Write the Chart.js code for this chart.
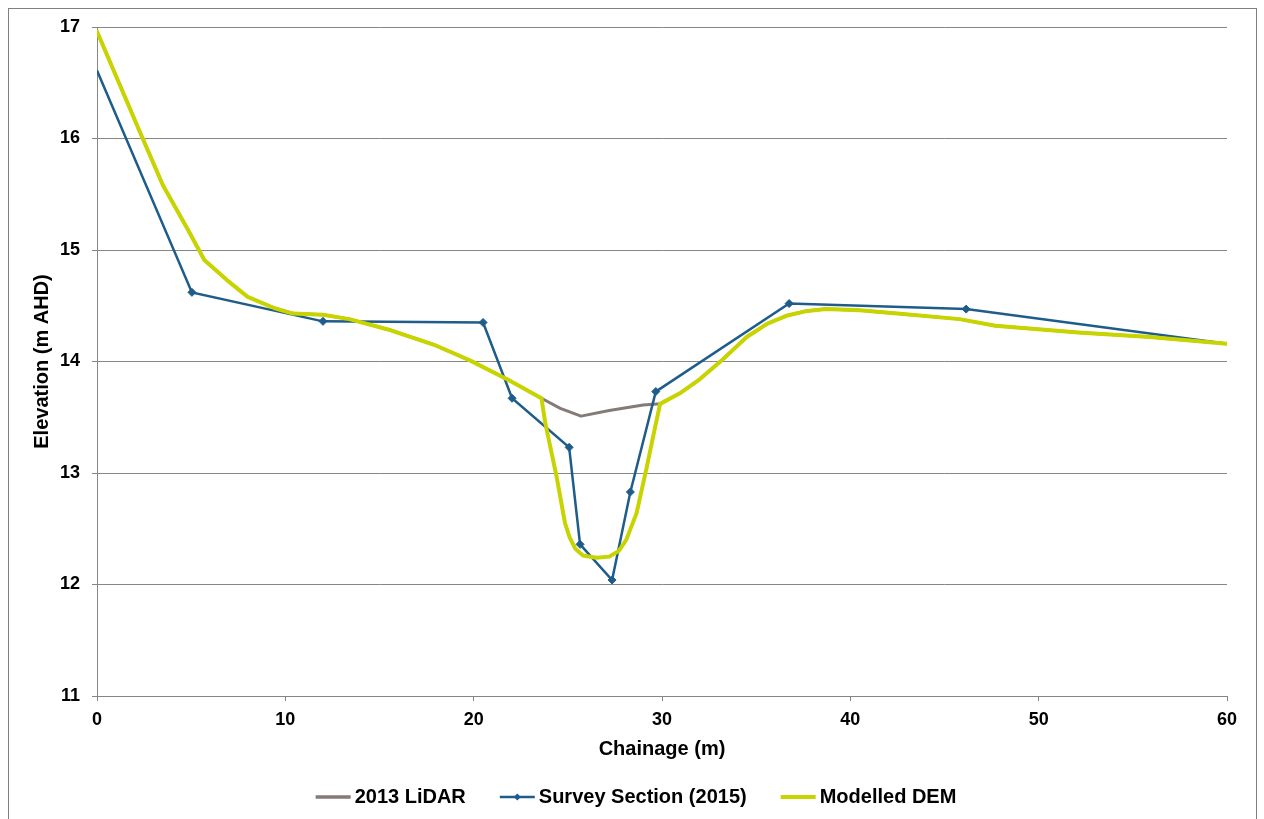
<!DOCTYPE html>
<html>
<head>
<meta charset="utf-8">
<title>Cross Section – Elevation vs Chainage</title>
<script src="https://cdn.jsdelivr.net/npm/chart.js@4.4.1/dist/chart.umd.min.js"></script>
<style>
  html, body { margin: 0; padding: 0; background: #ffffff; }
  #wrap { position: relative; width: 1264px; height: 819px; }
  canvas { display: block; }
</style>
</head>
<body>
<div id="wrap"><canvas id="chart" width="1264" height="819"></canvas></div>
<script>
// Axis ticks
const xTicks = [0, 10, 20, 30, 40, 50, 60];
const yTicks = [11, 12, 13, 14, 15, 16, 17];

// 2013 LiDAR ground profile
const lidarChainage = [0, 2.3, 3.5, 4.8, 5.7, 6.9, 8.0, 9.4, 10.4, 12.0, 13.4, 15.6, 17.9, 19.8, 21.9, 23.6,
  24.6, 25.7, 27.2, 29.0, 29.9, 31.0, 32.0, 33.3, 34.5, 35.6, 36.6, 37.6, 38.7, 40.5, 42.5, 45.8, 47.7, 52.1, 55.9, 60];
const lidarElevation = [16.96, 16.05, 15.58, 15.19, 14.91, 14.73, 14.58, 14.48, 14.43, 14.42, 14.38, 14.28, 14.15, 14.01, 13.83, 13.67,
  13.58, 13.51, 13.56, 13.61, 13.62, 13.72, 13.84, 14.03, 14.22, 14.34, 14.41, 14.45, 14.47, 14.46, 14.43, 14.38, 14.32, 14.26, 14.22, 14.16];

// Survey section (2015)
const surveyChainage = [0, 5.04, 12.0, 20.5, 22.04, 25.07, 25.65, 27.35, 28.32, 29.67, 36.75, 46.15, 60];
const surveyElevation = [16.61, 14.62, 14.36, 14.35, 13.67, 13.23, 12.36, 12.04, 12.83, 13.73, 14.52, 14.47, 14.16];

// Modelled DEM profile (channel cut into the LiDAR surface)
const demChainage = [0, 2.3, 3.5, 4.8, 5.7, 6.9, 8.0, 9.4, 10.4, 12.0, 13.4, 15.6, 17.9, 19.8, 21.9, 23.6,
  23.8, 24.4, 24.85, 25.1, 25.4, 25.8, 26.5, 27.2, 27.7, 28.1, 28.65, 29.2, 29.63, 29.9,
  31.0, 32.0, 33.3, 34.5, 35.6, 36.6, 37.6, 38.7, 40.5, 42.5, 45.8, 47.7, 52.1, 55.9, 60];
const demElevation = [16.96, 16.05, 15.58, 15.19, 14.91, 14.73, 14.58, 14.48, 14.43, 14.42, 14.38, 14.28, 14.15, 14.01, 13.83, 13.67,
  13.45, 12.97, 12.55, 12.42, 12.32, 12.26, 12.24, 12.25, 12.30, 12.40, 12.64, 13.06, 13.41, 13.62,
  13.72, 13.84, 14.03, 14.22, 14.34, 14.41, 14.45, 14.47, 14.46, 14.43, 14.38, 14.32, 14.26, 14.22, 14.16];

const seriesNames = ['2013 LiDAR', 'Survey Section (2015)', 'Modelled DEM'];
const COLORS = { lidar: '#857a78', survey: '#1e5c8a', dem: '#c8d400' };

const pts = (xs, ys) => xs.map((x, i) => ({ x: x, y: ys[i] }));
const FONT = "'Liberation Sans', Arial, Helvetica, sans-serif";

// white background + outer frame
const framePlugin = {
  id: 'frame',
  beforeDraw(chart) {
    const ctx = chart.ctx;
    ctx.save();
    ctx.fillStyle = '#ffffff';
    ctx.fillRect(0, 0, chart.width, chart.height);
    ctx.strokeStyle = '#808080';
    ctx.lineWidth = 1;
    ctx.strokeRect(8.5, 8.5, 1248, 812);
    ctx.restore();
  }
};

// bottom legend with line swatches (marker on the survey entry)
const legendPlugin = {
  id: 'lineLegend',
  afterDraw(chart) {
    const ctx = chart.ctx;
    const ds = chart.data.datasets;
    const swatch = 35, gap = 4, itemGap = 34, cy = 797, centerX = 636;
    ctx.save();
    ctx.font = 'bold 20px ' + FONT;
    const widths = ds.map(d => ctx.measureText(d.label).width);
    const total = widths.reduce((a, w) => a + w + swatch + gap, 0) + itemGap * (ds.length - 1);
    let x = centerX - total / 2;
    ds.forEach((d, i) => {
      ctx.strokeStyle = d.borderColor;
      ctx.lineWidth = d.legendWidth;
      ctx.beginPath();
      ctx.moveTo(x, cy);
      ctx.lineTo(x + swatch, cy);
      ctx.stroke();
      if (d.legendMarker) {
        ctx.fillStyle = d.borderColor;
        ctx.beginPath();
        const mx = x + swatch / 2, r = 3.5;
        ctx.moveTo(mx, cy - r); ctx.lineTo(mx + r, cy); ctx.lineTo(mx, cy + r); ctx.lineTo(mx - r, cy);
        ctx.closePath();
        ctx.fill();
      }
      ctx.fillStyle = '#000000';
      ctx.textBaseline = 'middle';
      ctx.textAlign = 'left';
      ctx.fillText(d.label, x + swatch + gap, cy);
      x += swatch + gap + widths[i] + itemGap;
    });
    ctx.restore();
  }
};

const lastSurvey = surveyChainage.length - 1;

new Chart(document.getElementById('chart'), {
  type: 'line',
  data: {
    datasets: [
      {
        label: seriesNames[0],
        data: pts(lidarChainage, lidarElevation),
        borderColor: COLORS.lidar,
        borderWidth: 3,
        legendWidth: 3.5,
        pointRadius: 0,
        tension: 0,
        borderJoinStyle: 'round',
        order: 3
      },
      {
        label: seriesNames[1],
        data: pts(surveyChainage, surveyElevation),
        borderColor: COLORS.survey,
        backgroundColor: COLORS.survey,
        borderWidth: 2.5,
        legendWidth: 2.5,
        legendMarker: true,
        pointStyle: 'rectRot',
        pointRadius: c => (c.dataIndex === 0 || c.dataIndex === lastSurvey) ? 0 : 4,
        pointBorderWidth: 1,
        tension: 0,
        order: 2
      },
      {
        label: seriesNames[2],
        data: pts(demChainage, demElevation),
        borderColor: COLORS.dem,
        borderWidth: 4,
        legendWidth: 4,
        pointRadius: 0,
        tension: 0,
        borderJoinStyle: 'round',
        borderCapStyle: 'round',
        order: 1
      }
    ]
  },
  options: {
    responsive: false,
    animation: false,
    layout: { padding: { left: 0, top: 27, right: 37, bottom: 0 } },
    plugins: { legend: { display: false }, tooltip: { enabled: false } },
    scales: {
      x: {
        type: 'linear',
        min: 0,
        max: 60,
        afterFit(scale) { scale.height = 123; },
        afterBuildTicks(scale) { scale.ticks = xTicks.map(v => ({ value: v })); },
        ticks: {
          color: '#000000',
          font: { family: FONT, size: 18, weight: 'bold' },
          padding: 8,
          maxRotation: 0
        },
        grid: { drawOnChartArea: false, drawTicks: true, tickLength: 5, color: '#868686', lineWidth: 1 },
        border: { display: true, color: '#868686', width: 1 },
        title: {
          display: true,
          text: 'Chainage (m)',
          color: '#000000',
          font: { family: FONT, size: 20, weight: 'bold' },
          padding: { top: 0, bottom: 58 }
        }
      },
      y: {
        type: 'linear',
        min: 11,
        max: 17,
        afterFit(scale) { scale.width = 97; },
        afterBuildTicks(scale) { scale.ticks = yTicks.map(v => ({ value: v })); },
        ticks: {
          color: '#000000',
          font: { family: FONT, size: 18, weight: 'bold' },
          padding: 12
        },
        grid: { drawOnChartArea: true, drawTicks: true, tickLength: 5, color: '#868686', lineWidth: 1 },
        border: { display: true, color: '#868686', width: 1 },
        title: {
          display: true,
          text: 'Elevation (m AHD)',
          color: '#000000',
          font: { family: FONT, size: 20, weight: 'bold' },
          padding: { top: 30, bottom: 0 }
        }
      }
    }
  },
  plugins: [framePlugin, legendPlugin]
});
</script>
</body>
</html>
